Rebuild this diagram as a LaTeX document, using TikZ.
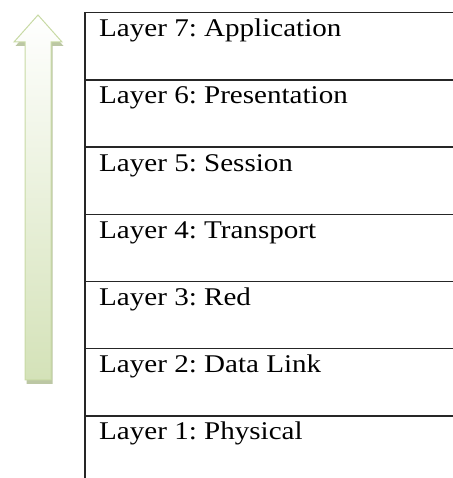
\documentclass[tikz,border=0pt]{standalone}
\usepackage{fontspec}
\setmainfont{Liberation Serif}
\usetikzlibrary{positioning, shadows}
\definecolor{ArrowGreen}{RGB}{212,226,184}
\definecolor{ArrowLine}{RGB}{200,218,165}
\definecolor{ArrowShadow}{RGB}{160,175,125}
\frenchspacing

\begin{document}
\begin{tikzpicture}[x=1pt, y=1pt,
    layerrow/.style={draw=black!85, line width=1.5pt, minimum width=420pt, minimum height=67.2pt, anchor=north west, inner sep=0pt},
    layertext/.style={anchor=base west, inner sep=0pt, font=\fontsize{25.5}{28}\selectfont}]
    \useasboundingbox (0,0) rectangle (452,478);

    % arrow pointing up
    \draw[ArrowLine, line width=1pt, top color=white, bottom color=ArrowGreen,
          drop shadow={shadow xshift=1.5pt, shadow yshift=-4pt, fill=ArrowShadow, opacity=0.7}]
        (38,463) -- (62,436) -- (51,436) -- (51,98) -- (25,98) -- (25,436) -- (14,436) -- cycle;

    % the seven layers
    \foreach \n/\txt [count=\i from 0] in {7/Application, 6/Presentation, 5/Session, 4/Transport, 3/Red, 2/Data Link, 1/Physical} {
        \node[layerrow] (layer\n) at (84, 466-\i*67.2) {};
        \node[layertext] (label\n) at ([shift={(15,-24.7)}]layer\n.north west) {\scalebox{1.14}[1]{Layer \n: \txt}};
    }
\end{tikzpicture}
\end{document}
